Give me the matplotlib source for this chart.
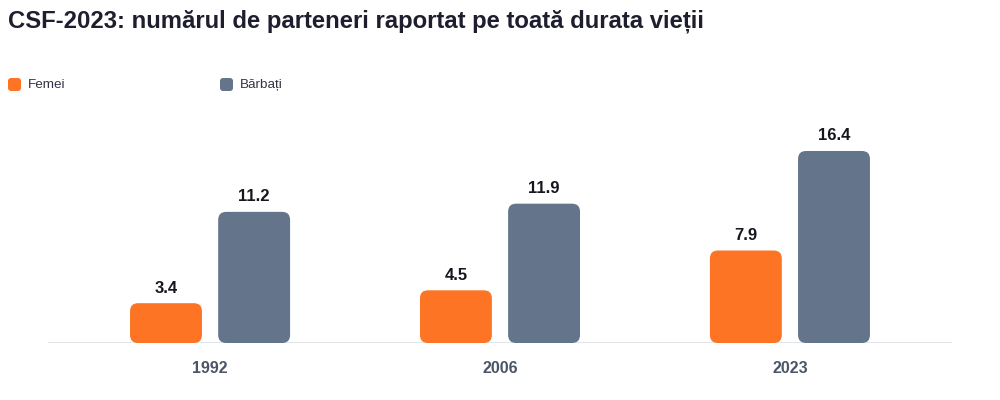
import matplotlib.pyplot as plt
from matplotlib.patches import FancyBboxPatch

plt.rcParams['font.family'] = ['Liberation Sans', 'DejaVu Sans']

years = ["1992", "2006", "2023"]
femei = [3.4, 4.5, 7.9]
barbati = [11.2, 11.9, 16.4]
series_names = ["Femei", "Bărbați"]
colors = ["#FD7424", "#64748B"]

fig = plt.figure(figsize=(10, 4), dpi=100)
ax = fig.add_axes([0.048, 0.1425, 0.904, 0.5825])

ymax = 19.9
xlo, xhi = -0.559, 2.559
ax.set_xlim(xlo, xhi)
ax.set_ylim(0, ymax)

width = 0.248
offset = 0.152
# pixel scale for rounded corners
px_x = (xhi - xlo) / 904
px_y = ymax / 233
r = 8 * px_x
aspect = px_y / px_x

for vals, off, col in [(femei, -offset, colors[0]), (barbati, offset, colors[1])]:
    for i, v in enumerate(vals):
        x0 = i + off - width / 2
        p = FancyBboxPatch((x0, 0), width, v,
                           boxstyle=f"round,pad=0,rounding_size={r}",
                           mutation_aspect=aspect, fc=col, ec="none", zorder=3)
        ax.add_patch(p)
        ax.text(i + off, v + 15 * px_y, f"{v}", ha="center", va="center",
                fontsize=12, fontweight="bold", color="#16161f")

ax.axhline(0, color="#dde2e6", lw=2, zorder=2)
for s in ax.spines.values():
    s.set_visible(False)
ax.set_yticks([])
ax.set_xticks(range(len(years)))
ax.set_xticklabels(years, fontsize=11.5, fontweight="bold", color="#4a5568")
ax.tick_params(axis="x", length=0, pad=13)

fig.text(0.008, 0.948, "CSF-2023: numărul de parteneri raportat pe toată durata vieții",
         fontsize=17.2, fontweight="bold", color="#1e1e2e", va="center", ha="left")

# legend
for xm, name, col in [(0.008, series_names[0], colors[0]), (0.22, series_names[1], colors[1])]:
    m = FancyBboxPatch((xm, 1 - 91 / 400), 0.013, 13 / 400,
                       boxstyle="round,pad=0,rounding_size=0.003",
                       mutation_aspect=2.5, transform=fig.transFigure,
                       fc=col, ec="none")
    fig.patches.append(m)
    fig.text(xm + 0.02, 1 - 85 / 400, name, fontsize=9.7, color="#333344",
             va="center", ha="left")

fig.savefig("out.png", dpi=100, facecolor="white")
